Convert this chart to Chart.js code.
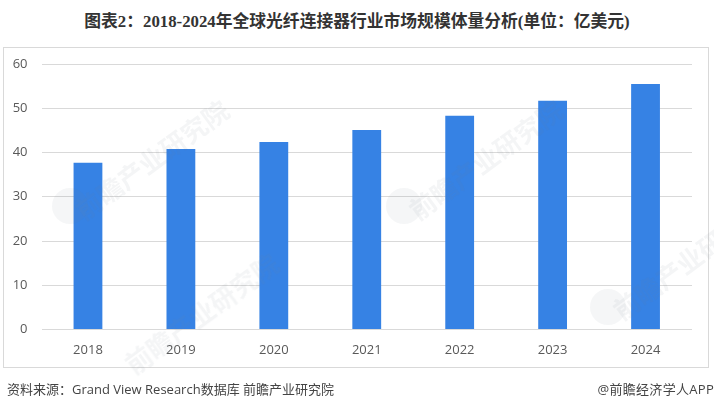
<!DOCTYPE html>
<html lang="zh">
<head>
<meta charset="utf-8">
<title>全球光纤连接器行业市场规模</title>
<script src="https://cdn.jsdelivr.net/npm/chart.js@4/dist/chart.umd.min.js"></script>
<style>
  html, body { margin: 0; padding: 0; background: #fff; }
  #page { position: relative; width: 714px; height: 410px; overflow: hidden; }
  #title { position: absolute; left: 0; top: 11px; width: 714px; text-align: center; font: bold 16.8px/22px "Liberation Serif", "Noto Sans CJK SC", serif; color: #333; white-space: nowrap; }
  #frame { position: absolute; left: 3px; top: 47px; width: 704px; height: 319px; border: 1px solid #d9d9d9; }
  #chartBox { position: absolute; left: 0; top: 0; width: 714px; height: 410px; }
  #source { position: absolute; left: 7px; top: 380px; font: 13px/18px "Open Sans", "Noto Sans CJK SC", sans-serif; color: #444; white-space: nowrap; }
  #brand { position: absolute; right: 0; top: 380px; font: 13px/18px "Open Sans", "Noto Sans CJK SC", sans-serif; letter-spacing: 0.3px; color: #444; white-space: nowrap; }
  .mark { position: absolute; font: bold 26px/28px "Noto Sans CJK SC", sans-serif; color: rgba(120,130,140,0.08); transform: rotate(-36deg); transform-origin: left bottom; white-space: nowrap; pointer-events: none; }
  .logo { position: absolute; width: 36px; height: 36px; border-radius: 50%; background: rgba(120,130,140,0.07); pointer-events: none; }
</style>
</head>
<body>
<div id="page">
  <div id="title">图表2：2018-2024年全球光纤连接器行业市场规模体量分析(单位：亿美元)</div>
  <div id="frame"></div>
  <div id="chartBox"><canvas id="marketChart"></canvas></div>
  <div class="logo" style="left:52px;top:188px"></div>
  <div class="mark" style="left:86px;top:196px">前瞻产业研究院</div>
  <div class="logo" style="left:386px;top:188px"></div>
  <div class="mark" style="left:420px;top:196px">前瞻产业研究院</div>
  <div class="logo" style="left:590px;top:289px"></div>
  <div class="mark" style="left:624px;top:296px">前瞻产业研究院</div>
  <div class="mark" style="left:136px;top:350px">前瞻产业研究院</div>
  <div id="source">资料来源：Grand View Research数据库 前瞻产业研究院</div>
  <div id="brand">@前瞻经济学人APP</div>
</div>
<script>
const years = ['2018', '2019', '2020', '2021', '2022', '2023', '2024'];
const marketSize = [37.7, 40.8, 42.4, 45.1, 48.3, 51.7, 55.5];
const yTicks = [0, 10, 20, 30, 40, 50, 60];

const tickFont = { family: '"Open Sans", sans-serif', size: 13 };

new Chart(document.getElementById('marketChart'), {
    type: 'bar',
    data: {
        labels: years,
        datasets: [{
            label: '市场规模',
            data: marketSize,
            backgroundColor: '#3682e4',
            barPercentage: 0.31,
            categoryPercentage: 1
        }]
    },
    options: {
        responsive: true,
        maintainAspectRatio: false,
        animation: false,
        layout: { padding: { left: 0, right: 22, top: 64, bottom: 51.5 } },
        plugins: {
            legend: { display: false },
            tooltip: { enabled: false }
        },
        scales: {
            y: {
                min: 0,
                max: 60,
                afterFit: scale => { scale.width = 41.5; },
                afterBuildTicks: scale => { scale.ticks = yTicks.map(value => ({ value })); },
                border: { display: false },
                grid: { color: '#d9d9d9', lineWidth: 1, drawTicks: false },
                ticks: { color: '#595959', font: tickFont, padding: 14 }
            },
            x: {
                afterFit: scale => { scale.height = 29; },
                border: { display: false },
                grid: { display: false, drawTicks: false },
                ticks: { color: '#595959', font: tickFont, padding: 13, maxRotation: 0 }
            }
        }
    }
});
</script>
</body>
</html>
